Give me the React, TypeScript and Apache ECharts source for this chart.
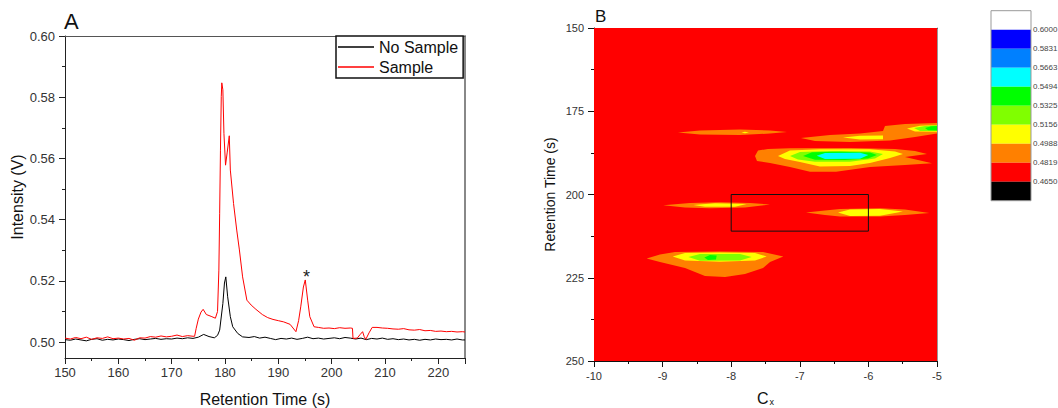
import React, { useEffect, useRef } from 'react';
import * as echarts from 'echarts';

const FONT = '"Liberation Sans", Arial, sans-serif';

// ---------- Panel A data ----------
const NO_SAMPLE: number[][] = [
  [150,0.5008],[151,0.5006],[152,0.5010],[153,0.5007],[154,0.5004],[155,0.5009],[156,0.5011],[157,0.5006],[158,0.5009],[159,0.5007],
  [160,0.5010],[161,0.5008],[162,0.5005],[163,0.5009],[164,0.5011],[165,0.5008],[166,0.5010],[167,0.5012],[168,0.5009],[169,0.5011],
  [170,0.5010],[171,0.5013],[172,0.5011],[173,0.5014],[174,0.5012],[175,0.5016],[176,0.5025],[177,0.5018],[178,0.5014],[178.6,0.5022],
  [179.0,0.5039],[179.6,0.5126],[179.9,0.5193],[180.15,0.5213],[180.5,0.5148],[181.0,0.5083],[181.45,0.5050],[182.4,0.5028],[183.3,0.5017],
  [184.5,0.5015],[185.5,0.5018],[186.5,0.5013],[187.5,0.5016],[188.5,0.5012],[189.5,0.5008],[190.5,0.5012],[191.5,0.5010],[192.5,0.5013],
  [193.5,0.5009],[194.5,0.5012],[195.5,0.5016],[196.5,0.5011],[197.5,0.5013],[198.5,0.5010],[199.5,0.5012],[200.5,0.5014],[201.5,0.5011],
  [202.5,0.5015],[203.5,0.5013],[204.5,0.5010],[205.5,0.5013],[206.5,0.5008],[207.5,0.5012],[208.5,0.5010],[209.5,0.5013],[210.5,0.5009],
  [211.5,0.5011],[212.5,0.5008],[213.5,0.5010],[214.5,0.5007],[215.5,0.5009],[216.5,0.5006],[217.5,0.5009],[218.5,0.5007],[219.5,0.5010],
  [220.5,0.5008],[221.5,0.5009],[222.5,0.5007],[223.5,0.5010],[224.5,0.5007],[225,0.5007]
];

const SAMPLE: number[][] = [
  [150,0.5013],[151,0.5010],[152,0.5015],[153,0.5011],[154,0.5016],[155,0.5009],[156,0.5014],[157,0.5012],[158,0.5017],[159,0.5011],
  [160,0.5013],[161,0.5010],[162,0.5012],[163,0.5006],[164,0.5014],[165,0.5013],[166,0.5018],[167,0.5016],[168,0.5020],[169,0.5017],
  [170,0.5019],[171,0.5023],[172,0.5018],[173,0.5021],[174,0.5019],[174.3,0.5019],[174.6,0.5045],[175.0,0.5075],[175.5,0.5098],[175.9,0.5107],
  [176.5,0.5090],[177.4,0.5084],[178.2,0.5078],[178.6,0.5100],[178.85,0.5235],[179.0,0.5421],[179.15,0.5627],[179.3,0.5802],[179.4,0.5847],
  [179.6,0.5824],[179.8,0.5682],[180.1,0.5578],[180.4,0.5618],[180.8,0.5674],[181.0,0.5562],[181.6,0.5453],[182.2,0.5366],[182.7,0.5301],
  [183.3,0.5213],[184.1,0.5137],[184.9,0.5121],[185.8,0.5107],[187,0.5090],[188,0.5080],[189,0.5074],[190,0.5070],[191,0.5066],[192.2,0.5058],
  [193.3,0.5034],[193.8,0.5070],[194.2,0.5115],[194.7,0.5180],[195.05,0.5203],[195.5,0.5137],[195.9,0.5083],[196.7,0.5050],[197.5,0.5048],
  [198.5,0.5045],[199.5,0.5046],[200.5,0.5044],[201.5,0.5047],[202.5,0.5045],[203.5,0.5046],[203.9,0.5045],[204.0,0.5012],[204.8,0.5013],
  [205.3,0.5024],[205.8,0.5034],[206.1,0.5018],[206.4,0.5009],[207.0,0.5030],[207.6,0.5048],[208.5,0.5048],[209.5,0.5046],[210.5,0.5045],
  [211.5,0.5043],[212.5,0.5042],[213.5,0.5044],[214.5,0.5040],[215.5,0.5039],[216.5,0.5041],[217.5,0.5037],[218.5,0.5038],[219.5,0.5035],
  [220.5,0.5036],[221.5,0.5034],[222.5,0.5035],[223.5,0.5033],[224.5,0.5034],[225,0.5033]
];

const PEAK_MARK = [195.3, 0.5229];
const A_Y_MIN = 0.4948;
const A_Y_MAX = 0.6;
const A_Y_MAJOR = [0.5, 0.52, 0.54, 0.56, 0.58, 0.6];
const A_Y_MINOR = [0.51, 0.53, 0.55, 0.57, 0.59];

// ---------- Panel B data (contour regions, data coordinates) ----------
// level index: 0 black, 1 red, 2 orange, 3 yellow, 4 chartreuse, 5 green, 6 cyan, 7 azure, 8 blue, 9 white
const LEVEL_COLORS = ['#000000','#ff0000','#ff8000','#ffff00','#80ff00','#00ff00','#00ffff','#0080ff','#0000ff','#ffffff'];
const COLORBAR_LABELS = ['0.6000','0.5831','0.5663','0.5494','0.5325','0.5156','0.4988','0.4819','0.4650'];

const BG_RED = [[-10,150],[-5,150],[-5,250],[-10,250]];

const STREAK1_ORANGE = [[-8.776,181.38],[-8.455,180.78],[-7.872,180.48],[-7.434,180.78],[-7.187,181.23],[-7.434,181.68],[-7.872,182.13],[-8.455,181.98]];
const STREAK1_YELLOW = [[-7.85,181.35],[-7.80,181.15],[-7.74,181.35],[-7.80,181.6]];

const BLOB2_ORANGE = [[-6.983,183.03],[-6.560,182.13],[-6.122,181.68],[-5.787,180.93],[-5.758,179.43],[-5.467,178.83],[-5.0,178.53],[-5.0,181.68],[-5.321,182.73],[-5.685,183.78],[-6.268,184.23],[-6.778,183.93]];
const BLOB2_YELLOW_A = [[-6.370,182.88],[-6.122,182.37],[-5.787,182.28],[-5.787,183.42],[-6.122,183.51]];
const BLOB2_YELLOW_B = [[-5.437,180.18],[-5.248,179.37],[-5.0,179.13],[-5.0,181.17],[-5.321,181.08]];
const BLOB2_CHART = [[-5.335,180.03],[-5.175,179.43],[-5.0,179.22],[-5.0,180.93],[-5.248,180.93]];
const BLOB2_GREEN = [[-5.175,180.03],[-5.087,179.52],[-5.0,179.43],[-5.0,180.78],[-5.131,180.72]];

const BLOB3_ORANGE = [[-7.653,188.44],[-7.609,186.79],[-7.464,186.34],[-7.143,186.13],[-6.268,186.04],[-5.612,186.34],[-5.321,186.94],[-5.146,187.84],[-5.467,188.74],[-5.073,190.63],[-5.467,191.14],[-5.977,191.74],[-6.472,193.15],[-6.851,193.15],[-7.143,191.74],[-7.434,190.54],[-7.624,189.94]];
const BLOB3_YELLOW = [[-7.318,188.44],[-7.143,186.79],[-6.706,186.43],[-5.977,186.43],[-5.612,187.09],[-5.496,187.84],[-5.685,189.04],[-5.977,190.54],[-6.268,191.44],[-6.706,191.59],[-6.997,190.24],[-7.216,189.34]];
const BLOB3_CHART = [[-7.143,188.44],[-6.997,187.24],[-6.560,186.94],[-5.977,187.09],[-5.787,187.84],[-5.904,189.19],[-6.268,190.15],[-6.778,190.15],[-7.026,189.49]];
const BLOB3_GREEN = [[-6.953,188.44],[-6.822,187.30],[-6.414,187.15],[-5.977,187.39],[-5.875,188.14],[-6.006,189.19],[-6.341,189.64],[-6.778,189.55]];
const BLOB3_CYAN = [[-6.754,188.38],[-6.633,187.54],[-6.122,187.45],[-6.001,188.14],[-6.122,189.28],[-6.633,189.34]];

const BLOB4_ORANGE = [[-8.990,203.24],[-8.601,202.55],[-8.163,202.34],[-7.726,202.55],[-7.434,203.0],[-7.799,203.90],[-8.309,204.14],[-8.674,203.90]];
const BLOB4_YELLOW = [[-8.552,203.15],[-8.236,202.64],[-7.774,202.85],[-7.945,203.66],[-8.382,203.66]];

const BLOB5_ORANGE = [[-6.910,205.41],[-6.633,204.80],[-6.414,204.35],[-5.831,204.14],[-5.467,204.50],[-5.112,205.56],[-5.467,206.16],[-5.831,206.61],[-6.414,206.61],[-6.633,206.16]];
const BLOB5_YELLOW = [[-6.443,205.41],[-6.268,204.50],[-5.831,204.35],[-5.496,205.11],[-5.831,206.40],[-6.268,206.46]];

const BLOB6_ORANGE = [[-9.232,219.22],[-9.038,218.02],[-8.819,217.27],[-8.163,217.12],[-7.536,217.27],[-7.240,218.62],[-7.434,220.27],[-7.536,222.07],[-7.799,223.87],[-8.090,224.77],[-8.382,224.47],[-8.673,222.07],[-9.038,220.27]];
const BLOB6_YELLOW = [[-8.853,218.62],[-8.673,217.57],[-8.163,217.42],[-7.653,217.57],[-7.483,218.62],[-7.653,219.82],[-8.163,220.18],[-8.673,219.82]];
const BLOB6_CHART = [[-8.625,218.77],[-8.455,217.87],[-7.872,217.87],[-7.701,218.77],[-7.872,219.82],[-8.455,219.88]];
const BLOB6_GREEN = [[-8.392,218.92],[-8.309,218.17],[-8.211,218.32],[-8.222,219.52],[-8.338,219.67]];

const ROI_BOX = [[-8,200],[-6,200],[-6,211],[-8,211]];

const REGIONS: { level: number; points: number[][] }[] = [
  { level: 1, points: BG_RED },
  { level: 2, points: STREAK1_ORANGE },
  { level: 3, points: STREAK1_YELLOW },
  { level: 2, points: BLOB2_ORANGE },
  { level: 3, points: BLOB2_YELLOW_A },
  { level: 3, points: BLOB2_YELLOW_B },
  { level: 4, points: BLOB2_CHART },
  { level: 5, points: BLOB2_GREEN },
  { level: 2, points: BLOB3_ORANGE },
  { level: 3, points: BLOB3_YELLOW },
  { level: 4, points: BLOB3_CHART },
  { level: 5, points: BLOB3_GREEN },
  { level: 6, points: BLOB3_CYAN },
  { level: 2, points: BLOB4_ORANGE },
  { level: 3, points: BLOB4_YELLOW },
  { level: 2, points: BLOB5_ORANGE },
  { level: 3, points: BLOB5_YELLOW },
  { level: 2, points: BLOB6_ORANGE },
  { level: 3, points: BLOB6_YELLOW },
  { level: 4, points: BLOB6_CHART },
  { level: 5, points: BLOB6_GREEN },
];

function buildOption(): any {
  const axisCol = '#222';
  const labelStyle = { fontFamily: FONT, color: '#333' };
  const cbX = 991, cbY = 10.7, cbW = 40, cbH = 19;
  const cbColors = [...LEVEL_COLORS].reverse();

  return {
    animation: false,
    backgroundColor: '#ffffff',
    textStyle: { fontFamily: FONT },
    title: [
      { text: 'A', left: 64, top: 10, padding: 0, textStyle: { fontSize: 22, fontWeight: 'normal', color: '#111', fontFamily: FONT } },
      { text: 'B', left: 595, top: 8, padding: 0, textStyle: { fontSize: 17, fontWeight: 'normal', color: '#111', fontFamily: FONT } },
    ],
    legend: {
      data: ['No Sample', 'Sample'],
      orient: 'vertical',
      left: 336,
      top: 36,
      width: 129,
      padding: [3, 5, 3, 2],
      itemGap: 4,
      itemWidth: 36,
      itemHeight: 1.5,
      icon: 'rect',
      borderColor: '#111',
      borderWidth: 1.5,
      borderRadius: 0,
      backgroundColor: '#ffffff',
      textStyle: { fontSize: 16, color: '#111', fontFamily: FONT },
      selectedMode: false,
    },
    grid: [
      { left: 65, top: 36, width: 400, height: 322, outerBoundsMode: 'none', containLabel: false },
      { left: 594, top: 28, width: 343, height: 333, outerBoundsMode: 'none', containLabel: false },
    ],
    xAxis: [
      {
        gridIndex: 0, type: 'value', min: 150, max: 225, interval: 10, position: 'bottom',
        axisLine: { show: true, lineStyle: { color: axisCol, width: 1 } },
        axisTick: { show: true, length: 6, lineStyle: { color: axisCol } },
        minorTick: { show: true, splitNumber: 2, length: 3, lineStyle: { color: axisCol } },
        axisLabel: { ...labelStyle, fontSize: 13, margin: 8, showMaxLabel: false },
        splitLine: { show: false },
        name: 'Retention Time (s)', nameLocation: 'middle', nameGap: 33,
        nameTextStyle: { fontSize: 16, color: '#111', fontFamily: FONT },
      },
      {
        gridIndex: 0, type: 'value', min: 150, max: 225, position: 'top',
        axisLine: { show: true, lineStyle: { color: '#555', width: 1 } },
        axisTick: { show: false }, axisLabel: { show: false }, splitLine: { show: false },
      },
      {
        gridIndex: 1, type: 'value', min: -10, max: -5, interval: 1, position: 'bottom',
        axisLine: { show: true, lineStyle: { color: '#111', width: 1 } },
        axisTick: { show: true, length: 6, lineStyle: { color: '#111' } },
        minorTick: { show: true, splitNumber: 2, length: 3, lineStyle: { color: '#111' } },
        axisLabel: { ...labelStyle, fontSize: 11, margin: 9 },
        splitLine: { show: false },
        name: '{c|C}{s|x}', nameLocation: 'middle', nameGap: 29,
        nameTextStyle: {
          fontFamily: FONT, color: '#111',
          rich: {
            c: { fontSize: 16, lineHeight: 16, verticalAlign: 'top', fontFamily: FONT, color: '#111' },
            s: { fontSize: 9, lineHeight: 9, verticalAlign: 'top', padding: [7, 0, 0, 1], fontFamily: FONT, color: '#111' },
          },
        },
      },
      {
        gridIndex: 1, type: 'value', min: -10, max: -5, position: 'top',
        axisLine: { show: true, lineStyle: { color: '#111', width: 1 } },
        axisTick: { show: false }, axisLabel: { show: false }, splitLine: { show: false },
      },
    ],
    yAxis: [
      {
        gridIndex: 0, type: 'value', min: A_Y_MIN, max: A_Y_MAX, position: 'left',
        axisLine: { show: true, lineStyle: { color: axisCol, width: 1 } },
        axisTick: { show: true, length: 6, customValues: A_Y_MAJOR, lineStyle: { color: axisCol } },
        axisLabel: { ...labelStyle, fontSize: 13, margin: 10, customValues: A_Y_MAJOR, formatter: (v: number) => v.toFixed(2) },
        splitLine: { show: false },
        name: 'Intensity (V)', nameLocation: 'middle', nameGap: 40,
        nameTextStyle: { fontSize: 16, color: '#111', fontFamily: FONT },
      },
      {
        gridIndex: 0, type: 'value', min: A_Y_MIN, max: A_Y_MAX, position: 'left',
        axisLine: { show: false },
        axisTick: { show: true, length: 3, customValues: A_Y_MINOR, lineStyle: { color: axisCol } },
        axisLabel: { show: false }, splitLine: { show: false },
      },
      {
        gridIndex: 0, type: 'value', min: A_Y_MIN, max: A_Y_MAX, position: 'right',
        axisLine: { show: true, lineStyle: { color: '#888', width: 2 } },
        axisTick: { show: false }, axisLabel: { show: false }, splitLine: { show: false },
      },
      {
        gridIndex: 1, type: 'value', min: 150, max: 250, interval: 25, inverse: true, position: 'left',
        axisLine: { show: true, lineStyle: { color: '#111', width: 1 } },
        axisTick: { show: true, length: 6, lineStyle: { color: '#111' } },
        minorTick: { show: true, splitNumber: 2, length: 3, lineStyle: { color: '#111' } },
        axisLabel: { ...labelStyle, fontSize: 11, margin: 10 },
        splitLine: { show: false },
        name: 'Retention Time (s)', nameLocation: 'middle', nameGap: 37,
        nameTextStyle: { fontSize: 14, color: '#111', fontFamily: FONT },
      },
      {
        gridIndex: 1, type: 'value', min: 150, max: 250, inverse: true, position: 'right',
        axisLine: { show: true, lineStyle: { color: '#999', width: 1 } },
        axisTick: { show: false }, axisLabel: { show: false }, splitLine: { show: false },
      },
    ],
    series: [
      {
        name: 'No Sample', type: 'line', xAxisIndex: 0, yAxisIndex: 0,
        data: NO_SAMPLE, showSymbol: false, symbol: 'none',
        lineStyle: { color: '#000000', width: 1 }, itemStyle: { color: '#000000' },
      },
      {
        name: 'Sample', type: 'line', xAxisIndex: 0, yAxisIndex: 0,
        data: SAMPLE, showSymbol: false, symbol: 'none',
        lineStyle: { color: '#ff0000', width: 1 }, itemStyle: { color: '#ff0000' },
        markPoint: {
          symbol: 'circle', symbolSize: 1, itemStyle: { color: 'rgba(0,0,0,0)' },
          data: [{ coord: PEAK_MARK }],
          label: { show: true, formatter: '*', fontSize: 18, color: '#222', fontFamily: FONT, offset: [0, 5] },
        },
      },
      {
        name: 'contour', type: 'custom', xAxisIndex: 2, yAxisIndex: 3, clip: true,
        data: REGIONS.map((r) => [r.points[0][0], r.points[0][1]]),
        renderItem: (params: any, api: any) => {
          const r = REGIONS[params.dataIndex];
          const pts = r.points.map((p) => api.coord(p));
          return { type: 'polygon', shape: { points: pts }, style: { fill: LEVEL_COLORS[r.level], stroke: null } };
        },
        silent: true,
      },
      {
        name: 'box', type: 'custom', xAxisIndex: 2, yAxisIndex: 3, clip: true,
        data: [[ROI_BOX[0][0], ROI_BOX[0][1]]],
        renderItem: (_params: any, api: any) => {
          const pts = ROI_BOX.map((p) => api.coord(p));
          return { type: 'polygon', shape: { points: pts }, style: { fill: 'none', stroke: '#111', lineWidth: 1 } };
        },
        silent: true,
        z: 5,
      },
    ],
    graphic: [
      ...cbColors.map((c, i) => ({
        type: 'rect', shape: { x: cbX, y: cbY + i * cbH, width: cbW, height: cbH }, style: { fill: c }, silent: true,
      })),
      { type: 'rect', shape: { x: cbX, y: cbY, width: cbW, height: cbH * cbColors.length }, style: { fill: 'none', stroke: '#999', lineWidth: 1 }, silent: true },
      ...COLORBAR_LABELS.map((t, i) => ({
        type: 'text', x: cbX + cbW + 2, y: cbY + (i + 1) * cbH,
        style: { text: t, fontSize: 8, fill: '#444', fontFamily: FONT, verticalAlign: 'middle', align: 'left' }, silent: true,
      })),
    ],
  };
}

export default function App() {
  const ref = useRef<HTMLDivElement>(null);
  useEffect(() => {
    document.body.style.margin = '0';
    if (!ref.current) return;
    const chart = echarts.init(ref.current, null, { renderer: 'svg' });
    chart.setOption(buildOption());
    return () => chart.dispose();
  }, []);
  return <div ref={ref} style={{ width: 1058, height: 408 }} />;
}
